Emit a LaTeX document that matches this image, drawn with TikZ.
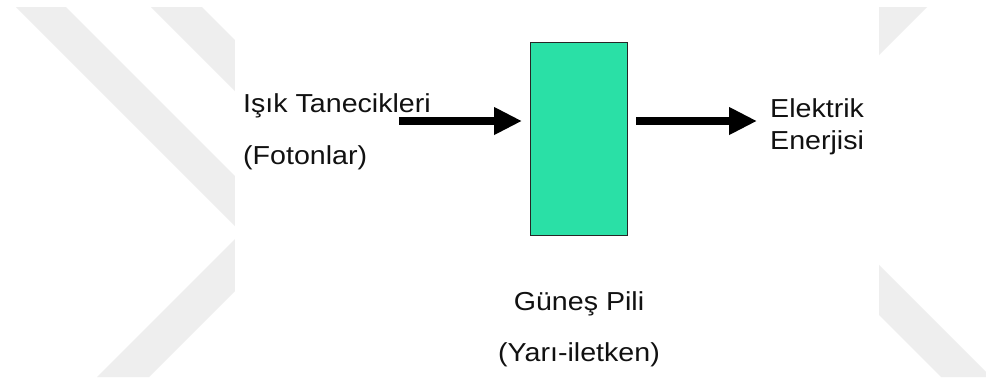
\documentclass[tikz,border=0pt]{standalone}
\usepackage{fontspec}
\setmainfont{Liberation Sans}[FakeStretch=1.1]
\usetikzlibrary{arrows.meta}
\definecolor{wm}{RGB}{238,238,238}
\definecolor{cellgreen}{RGB}{42,224,166}
\definecolor{ink}{RGB}{17,17,17}
\begin{document}
\begin{tikzpicture}[x=1pt,y=-1pt,
  lbl/.style={inner sep=0pt, text=ink, font=\fontsize{26pt}{30pt}\selectfont},
  bigarrow/.style={line width=8pt, draw=black, -{Triangle[length=28pt,width=26pt]}},
  band/.style={fill=wm, draw=none}]
\useasboundingbox (0,0) rectangle (986,381);
\fill[white] (0,0) rectangle (986,381);
% watermark bands
\begin{scope}
  \clip (0,7) rectangle (986,377);
  \fill[band] (16,7) -- (66,7) -- (436,377) -- (386,377) -- cycle;
  \fill[band] (151,7) -- (202,7) -- (572,377) -- (521,377) -- cycle;
  \fill[band] (467,7) -- (519,7) -- (149,377) -- (97,377) -- cycle;
  \fill[band] (877,7) -- (927,7) -- (557,377) -- (507,377) -- cycle;
  \fill[band] (571,7) -- (621,7) -- (991,377) -- (941,377) -- cycle;
\end{scope}
\fill[white] (235,0) rectangle (879,381);
% solar cell
\node[draw=black!85, line width=1pt, fill=cellgreen, minimum width=97pt,
      minimum height=193pt, inner sep=0pt, anchor=north west] (cell) at (530,42) {};
% labels
\node[lbl, anchor=base west] (l1) at (243,112) {Işık Tanecikleri};
\node[lbl, anchor=base west] (l2) at (243,164) {(Fotonlar)};
\node[lbl, anchor=base west] (o1) at (770,117) {Elektrik};
\node[lbl, anchor=base west] (o2) at (770,149) {Enerjisi};
\node[lbl, anchor=base] (c1) at (579,310) {Güneş Pili};
\node[lbl, anchor=base] (c2) at (579,361) {(Yarı-iletken)};
% arrows
\coordinate (in) at (399,121);
\coordinate (outtip) at (757,121);
\draw[bigarrow, shorten >=8pt] (in) -- (in -| cell.west);
\draw[bigarrow, shorten <=8pt] (outtip -| cell.east) -- (outtip);
\end{tikzpicture}
\end{document}
